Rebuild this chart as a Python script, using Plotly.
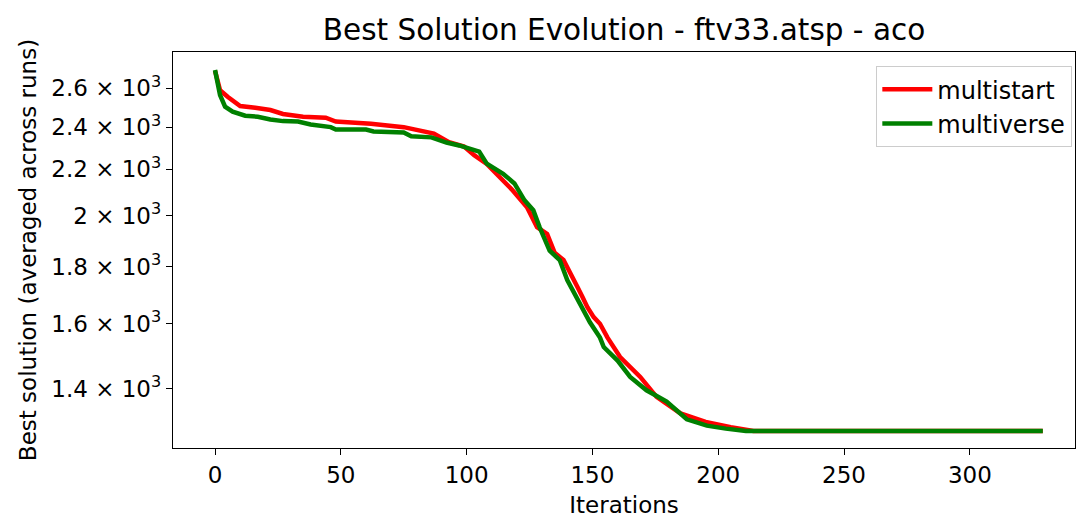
import plotly.graph_objects as go

# Data
ms_iter = [0, 2, 5, 10, 16, 22, 27, 35, 44, 48, 62, 75, 87, 93, 99, 103, 108, 112, 118,
           124, 128, 132, 135, 138.5, 141, 144, 146, 148, 150.5, 153, 156, 161, 169, 175.5,
           185, 195, 205, 211, 214, 329]
ms_best = [2696, 2590, 2555, 2507, 2498, 2486, 2466, 2452, 2447, 2428, 2417, 2400, 2368,
           2327, 2306, 2265, 2225, 2180, 2110, 2035, 1953, 1926, 1852, 1825, 1776, 1727,
           1692, 1656, 1622, 1600, 1555, 1494, 1434, 1376, 1330, 1307, 1293, 1285, 1283, 1283]

mv_iter = [0, 2, 4, 7, 12, 17, 22, 27, 33, 38, 46, 48, 60, 63, 75, 78, 86, 92, 97, 103,
           105, 108, 114.5, 119, 123, 126.5, 129, 133, 137, 140, 145, 149, 153, 154.5, 160,
           165, 171.5, 179.5, 187.5, 195.5, 203, 211, 329]
mv_best = [2700, 2564, 2503, 2478, 2457, 2452, 2438, 2430, 2428, 2413, 2400, 2388, 2388,
           2379, 2374, 2355, 2350, 2325, 2311, 2290, 2282, 2226, 2180, 2137, 2064, 2022,
           1953, 1860, 1825, 1751, 1669, 1605, 1555, 1525, 1483, 1434, 1395, 1363, 1314,
           1297, 1289, 1283, 1283]

y_tick_vals = [1400, 1600, 1800, 2000, 2200, 2400, 2600]
y_tick_text = ["1.4 × 10<sup>3</sup>", "1.6 × 10<sup>3</sup>", "1.8 × 10<sup>3</sup>",
               "2 × 10<sup>3</sup>", "2.2 × 10<sup>3</sup>", "2.4 × 10<sup>3</sup>",
               "2.6 × 10<sup>3</sup>"]
x_tick_vals = [0, 50, 100, 150, 200, 250, 300]

FONT = "DejaVu Sans"

fig = go.Figure()
fig.add_trace(go.Scatter(x=ms_iter, y=ms_best, mode="lines", name="multistart",
                         line=dict(color="#ff0000", width=4.5)))
fig.add_trace(go.Scatter(x=mv_iter, y=mv_best, mode="lines", name="multiverse",
                         line=dict(color="#008000", width=4.5)))

fig.update_layout(
    width=1077, height=520,
    margin=dict(l=173, r=2, t=52, b=72),
    paper_bgcolor="white", plot_bgcolor="white",
    font=dict(family=FONT, size=23, color="black"),
    title=dict(text="Best Solution Evolution - ftv33.atsp - aco",
               x=(173 + 1075) / 2 / 1077, xanchor="center",
               y=1 - 30 / 520, yanchor="middle",
               font=dict(family=FONT, size=29.5, color="black")),
    showlegend=True,
    legend=dict(x=0.9967, xanchor="right", y=0.965, yanchor="top",
                bgcolor="white", bordercolor="#cccccc", borderwidth=1.3,
                itemwidth=50,
                font=dict(family=FONT, size=24, color="black")),
)

fig.update_xaxes(
    range=[-16.7, 341.8], tickvals=x_tick_vals,
    showline=True, mirror=True, linecolor="black", linewidth=1.3,
    ticks="outside", ticklen=6, tickwidth=1.3, tickcolor="black",
    showgrid=False, zeroline=False,
    title=dict(text="Iterations", standoff=10, font=dict(family=FONT, size=23)),
)
fig.update_yaxes(
    type="log", range=[3.0929, 3.4475],
    tickvals=y_tick_vals, ticktext=y_tick_text,
    showline=True, mirror=True, linecolor="black", linewidth=1.3,
    ticks="outside", ticklen=6, tickwidth=1.3, tickcolor="black",
    showgrid=False, zeroline=False,
    title=dict(text="Best solution (averaged across runs)", standoff=8,
               font=dict(family=FONT, size=23)),
)

fig.write_html("out.html", config={"displayModeBar": False},
               post_script="document.body.style.margin='0';")
